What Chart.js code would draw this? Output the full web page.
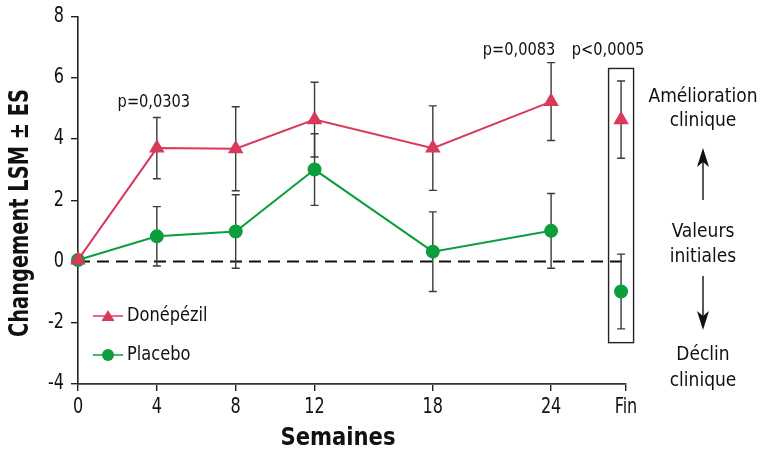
<!DOCTYPE html>
<html>
<head>
<meta charset="utf-8">
<script src="https://cdn.jsdelivr.net/npm/chart.js@4.4.1/dist/chart.umd.min.js"></script>
<style>
  html, body { margin: 0; padding: 0; background: #fff; }
  #wrap { width: 760px; height: 452px; position: relative; }
</style>
</head>
<body>
<div id="wrap"><canvas id="chart"></canvas></div>
<script>
// Semaines (Fin = end-point, placed after week 24)
const weeks = [0, 4, 8, 12, 18, 24];
const finWeek = 27.8;
const finPointWeek = 27.55;
const xTickValues = [0, 4, 8, 12, 18, 24, finWeek];
const xTickLabels = ['0', '4', '8', '12', '18', '24', 'Fin'];

// Changement LSM ± ES
const donepezil   = [0.05, 3.70, 3.68, 4.63, 3.70, 5.22];
const donepezilSE = [0,    1.00, 1.37, 1.22, 1.38, 1.27];
const placebo     = [0.05, 0.82, 0.98, 3.00, 0.32, 1.00];
const placeboSE   = [0,    0.97, 1.20, 1.17, 1.30, 1.22];
const donepezilFin = [4.63], donepezilFinSE = [1.26];
const placeboFin   = [-0.98], placeboFinSE = [1.22];

const pLabels = ['p=0,0303', 'p=0,0083', 'p<0,0005'];

const RED = '#d83a5b';
const GREEN = '#0c9e3c';
const FONT = "'DejaVu Sans Condensed', 'Liberation Sans Narrow', sans-serif";
const HIDDEN = 'rgba(0,0,0,0)';

Chart.defaults.font.family = FONT;
Chart.defaults.color = '#111';

const toPts = (xs, ys) => xs.map((x, i) => ({ x: x, y: ys[i] }));

// narrowed text, to get closer to the condensed face of the original
function text(ctx, str, x, y, font, sx, rot) {
    ctx.save();
    ctx.translate(x, y);
    if (rot) ctx.rotate(rot);
    ctx.scale(sx, 1);
    ctx.font = font;
    ctx.fillText(str, 0, 0);
    ctx.restore();
}

// ─── error bars, zero line, box, texts ───
const decorPlugin = {
    id: 'decor',
    beforeDatasetsDraw(chart) {
        const ctx = chart.ctx;
        const xs = chart.scales.x, ys = chart.scales.y;
        // dashed zero line
        ctx.save();
        ctx.strokeStyle = '#111';
        ctx.lineWidth = 2;
        ctx.setLineDash([12, 7]);
        ctx.beginPath();
        ctx.moveTo(xs.getPixelForValue(0), ys.getPixelForValue(0));
        ctx.lineTo(xs.getPixelForValue(finPointWeek) + 2, ys.getPixelForValue(0));
        ctx.stroke();
        ctx.restore();

        // error bars
        const bars = [
            [weeks, donepezil, donepezilSE],
            [weeks, placebo, placeboSE],
            [[finPointWeek], donepezilFin, donepezilFinSE],
            [[finPointWeek], placeboFin, placeboFinSE]
        ];
        ctx.save();
        ctx.strokeStyle = '#3a3a3a';
        ctx.lineWidth = 1.4;
        bars.forEach(([bx, by, be]) => {
            bx.forEach((w, i) => {
                if (!be[i]) return;
                const px = xs.getPixelForValue(w);
                const top = ys.getPixelForValue(by[i] + be[i]);
                const bot = ys.getPixelForValue(by[i] - be[i]);
                ctx.beginPath();
                ctx.moveTo(px, top); ctx.lineTo(px, bot);
                ctx.moveTo(px - 4, top); ctx.lineTo(px + 4, top);
                ctx.moveTo(px - 4, bot); ctx.lineTo(px + 4, bot);
                ctx.stroke();
            });
        });
        ctx.restore();
    },
    afterDraw(chart) {
        const ctx = chart.ctx;
        const xs = chart.scales.x, ys = chart.scales.y;
        const area = chart.chartArea;
        ctx.save();
        // box around Fin
        const fx = xs.getPixelForValue(finPointWeek);
        ctx.strokeStyle = '#222';
        ctx.lineWidth = 1.4;
        const bt = ys.getPixelForValue(6.3), bb = ys.getPixelForValue(-2.65);
        ctx.strokeRect(fx - 12.5, bt, 25, bb - bt);

        ctx.fillStyle = '#111';
        ctx.textBaseline = 'middle';

        // tick labels (condensed)
        const tf = '21px ' + FONT;
        ctx.textAlign = 'center';
        xs.ticks.forEach(t => {
            const i = xTickValues.indexOf(t.value);
            if (i < 0) return;
            text(ctx, xTickLabels[i], xs.getPixelForValue(t.value), area.bottom + 24, tf, 0.85);
        });
        ctx.textAlign = 'right';
        ys.ticks.forEach(t => {
            text(ctx, String(t.value), area.left - 14, ys.getPixelForValue(t.value), tf, 0.85);
        });

        ctx.textAlign = 'center';
        // axis titles
        text(ctx, 'Changement LSM ± ES', 21, 213, 'bold 26px ' + FONT, 0.83, -Math.PI / 2);
        text(ctx, 'Semaines', (area.left + area.right) / 2 - 14, 438, 'bold 25px ' + FONT, 0.94);

        // p-values
        const pf = '18px ' + FONT;
        text(ctx, pLabels[0], xs.getPixelForValue(4) - 3, ys.getPixelForValue(4.7) - 15, pf, 0.9);
        text(ctx, pLabels[1], xs.getPixelForValue(24) - 32, ys.getPixelForValue(6.52) - 11, pf, 0.9);
        text(ctx, pLabels[2], xs.getPixelForValue(finWeek) - 18, ys.getPixelForValue(6.52) - 11, pf, 0.9);

        // right annotations
        const cx = 703;
        const af = '19px ' + FONT;
        text(ctx, 'Amélioration', cx, 97, af, 1);
        text(ctx, 'clinique', cx, 121, af, 1);
        text(ctx, 'Valeurs', cx, 232, af, 1);
        text(ctx, 'initiales', cx, 257, af, 1);
        text(ctx, 'Déclin', cx, 355, af, 1);
        text(ctx, 'clinique', cx, 381, af, 1);
        ctx.strokeStyle = '#111';
        ctx.lineWidth = 1.4;
        ctx.beginPath();
        ctx.moveTo(cx, 200); ctx.lineTo(cx, 155);
        ctx.moveTo(cx, 276); ctx.lineTo(cx, 322);
        ctx.stroke();
        // arrow heads
        ctx.beginPath();
        ctx.moveTo(cx, 148); ctx.lineTo(cx - 6, 167); ctx.lineTo(cx, 162); ctx.lineTo(cx + 6, 167); ctx.closePath();
        ctx.fill();
        ctx.beginPath();
        ctx.moveTo(cx, 330); ctx.lineTo(cx - 6, 311); ctx.lineTo(cx, 316); ctx.lineTo(cx + 6, 311); ctx.closePath();
        ctx.fill();

        // legend
        const items = [
            { label: 'Donépézil', color: RED, style: 'triangle', y: 316 },
            { label: 'Placebo', color: GREEN, style: 'circle', y: 355 }
        ];
        ctx.textAlign = 'left';
        items.forEach(it => {
            ctx.strokeStyle = it.color;
            ctx.lineWidth = 1.5;
            ctx.beginPath();
            ctx.moveTo(93, it.y); ctx.lineTo(123, it.y);
            ctx.stroke();
            ctx.fillStyle = it.color;
            ctx.beginPath();
            if (it.style === 'circle') {
                ctx.arc(108, it.y, 6, 0, Math.PI * 2);
            } else {
                ctx.moveTo(108, it.y - 6); ctx.lineTo(101.5, it.y + 5); ctx.lineTo(114.5, it.y + 5); ctx.closePath();
            }
            ctx.fill();
            ctx.fillStyle = '#111';
            text(ctx, it.label, 127, it.y, '19px ' + FONT, 0.95);
        });
        ctx.restore();
    }
};

const lineStyle = (color, style, r) => ({
    borderColor: color,
    backgroundColor: color,
    pointBackgroundColor: color,
    pointBorderColor: color,
    pointStyle: style,
    pointRadius: r,
    pointHoverRadius: r,
    borderWidth: 2,
    tension: 0,
    clip: false
});

new Chart(document.getElementById('chart'), {
    type: 'scatter',
    data: {
        datasets: [
            Object.assign({ label: 'Donépézil', data: toPts(weeks, donepezil), showLine: true }, lineStyle(RED, 'triangle', 7)),
            Object.assign({ label: 'Donépézil Fin', data: toPts([finPointWeek], donepezilFin), showLine: false }, lineStyle(RED, 'triangle', 7)),
            Object.assign({ label: 'Placebo', data: toPts(weeks, placebo), showLine: true }, lineStyle(GREEN, 'circle', 6)),
            Object.assign({ label: 'Placebo Fin', data: toPts([finPointWeek], placeboFin), showLine: false }, lineStyle(GREEN, 'circle', 6))
        ]
    },
    options: {
        responsive: true,
        maintainAspectRatio: false,
        animation: false,
        layout: { padding: { top: 15, right: 134, left: 0, bottom: 0 } },
        plugins: { legend: { display: false }, tooltip: { enabled: false } },
        scales: {
            x: {
                type: 'linear',
                min: 0,
                max: finWeek,
                afterBuildTicks(scale) {
                    scale.ticks = xTickValues.map(v => ({ value: v }));
                },
                afterFit(scale) { scale.height = 68; },
                ticks: {
                    autoSkip: false,
                    maxRotation: 0,
                    padding: 6,
                    font: { size: 19 },
                    color: HIDDEN,
                    callback: (v) => {
                        const i = xTickValues.indexOf(v);
                        return i >= 0 ? xTickLabels[i] : '';
                    }
                },
                grid: { drawOnChartArea: false, drawTicks: true, tickLength: 7, color: '#222', lineWidth: 1.4 },
                border: { display: true, color: '#333', width: 1.8 },
                title: { display: false }
            },
            y: {
                min: -4,
                max: 8,
                afterFit(scale) { scale.width = 78; },
                ticks: { stepSize: 2, padding: 5, font: { size: 19 }, color: HIDDEN },
                grid: { drawOnChartArea: false, drawTicks: true, tickLength: 7, color: '#222', lineWidth: 1.4 },
                border: { display: true, color: '#222', width: 1.6 },
                title: { display: false }
            }
        }
    },
    plugins: [decorPlugin]
});
</script>
</body>
</html>
